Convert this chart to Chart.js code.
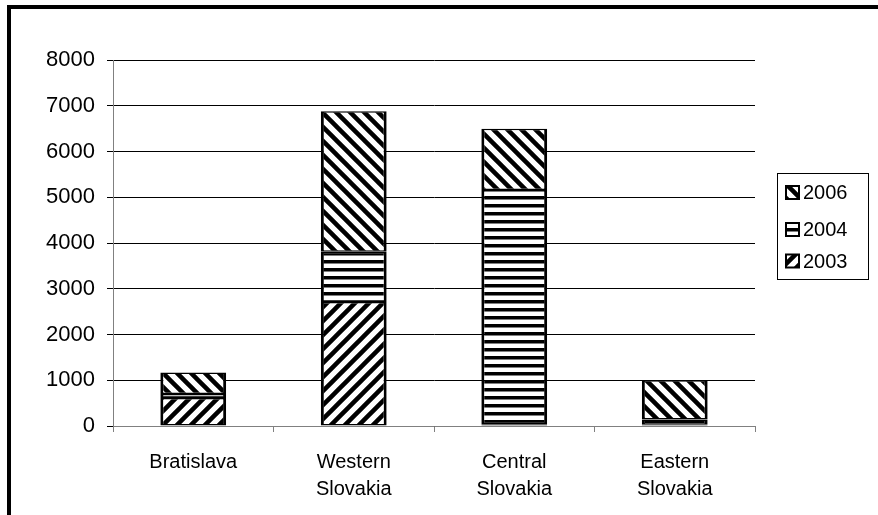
<!DOCTYPE html>
<html>
<head>
<meta charset="utf-8">
<script src="https://cdn.jsdelivr.net/npm/chart.js@4"></script>
<style>
  html, body { margin: 0; padding: 0; background: #fff; }
  #wrap { width: 878px; height: 515px; position: relative; }
</style>
</head>
<body>
<div id="wrap"><canvas id="chart" width="878" height="515"></canvas></div>
<script>
// Regions on the category axis (multi-line labels as arrays)
const categories = [['Bratislava'], ['Western', 'Slovakia'], ['Central', 'Slovakia'], ['Eastern', 'Slovakia']];

// Series, stacked bottom to top
const seriesNames = ['2003', '2004', '2006'];
const values2003 = [610, 2710, 40, 30];
const values2004 = [90, 1100, 5120, 110];
const values2006 = [470, 3070, 1340, 860];

// Value axis
const yMin = 0;
const yMax = 8000;
const yStep = 1000;

const FONT = "'Liberation Sans', Arial, sans-serif";

// Monochrome hatch fills
function hatch(kind) {
  const c = document.createElement('canvas');
  const s = kind === 'horizontal' ? 8 : 14;
  c.width = s; c.height = s;
  const g = c.getContext('2d');
  g.fillStyle = '#fff';
  g.fillRect(0, 0, s, s);
  g.strokeStyle = '#000';
  g.fillStyle = '#000';
  if (kind === 'horizontal') {
    g.fillRect(0, 4, s, 3.5);
  } else {
    g.lineWidth = 4.5;
    g.beginPath();
    for (const off of [-s, 0, s]) {
      if (kind === 'down') {         // "\" strokes
        g.moveTo(off - 2, -2); g.lineTo(off + s + 2, s + 2);
      } else {                       // "/" strokes
        g.moveTo(off - 2, s + 2); g.lineTo(off + s + 2, -2);
      }
    }
    g.stroke();
  }
  return g.createPattern(c, 'repeat');
}

const ctx = document.getElementById('chart').getContext('2d');
const fills = [hatch('up'), hatch('horizontal'), hatch('down')];
const seriesValues = [values2003, values2004, values2006];

const barBorder = { top: 1.5, bottom: 1.5, left: 3, right: 3 };

const datasets = seriesNames.map((name, i) => ({
  label: name,
  data: seriesValues[i],
  backgroundColor: fills[i],
  borderColor: '#000',
  borderWidth: barBorder,
  borderSkipped: false,
  categoryPercentage: 1.0,
  barPercentage: 0.41
}));

// White page with the heavy outer frame
const framePlugin = {
  id: 'frame',
  beforeDraw(chart) {
    const g = chart.ctx;
    g.save();
    g.fillStyle = '#fff';
    g.fillRect(0, 0, chart.width, chart.height);
    g.fillStyle = '#000';
    g.fillRect(7, 5, chart.width - 7, 4);
    g.fillRect(7, 5, 4, chart.height - 5);
    g.restore();
  }
};

// Boxed legend on the right, top series first
const boxLegend = {
  id: 'boxLegend',
  afterDraw(chart) {
    const g = chart.ctx;
    const ds = chart.data.datasets.slice().reverse();
    const rowY = [192.5, 229.5, 261];
    g.save();
    g.strokeStyle = '#000';
    g.lineWidth = 1;
    g.strokeRect(777.5, 173.5, 91, 106);
    g.font = '20px ' + FONT;
    g.textBaseline = 'middle';
    g.textAlign = 'left';
    ds.forEach((d, i) => {
      const y = rowY[i];
      g.fillStyle = d.backgroundColor;
      g.fillRect(786, y - 6.5, 13, 13);
      g.strokeStyle = '#000';
      g.lineWidth = 2;
      g.strokeRect(786, y - 6.5, 13, 13);
      g.fillStyle = '#000';
      g.fillText(d.label, 803, y + 1);
    });
    g.restore();
  }
};

new Chart(ctx, {
  type: 'bar',
  data: { labels: categories, datasets },
  options: {
    responsive: false,
    animation: false,
    devicePixelRatio: 1,
    layout: { padding: { top: 60, right: 123, bottom: 0, left: 0 } },
    plugins: {
      legend: { display: false },
      tooltip: { enabled: false }
    },
    scales: {
      x: {
        stacked: true,
        afterFit(scale) { scale.height = 89; },
        grid: {
          display: true,
          offset: true,
          drawOnChartArea: false,
          drawTicks: true,
          tickLength: 6,
          color: '#808080',
          lineWidth: 1
        },
        border: { display: true, color: '#808080', width: 1 },
        ticks: {
          color: '#000',
          font: { family: FONT, size: 20, lineHeight: 1.35 },
          padding: 17,
          maxRotation: 0,
          autoSkip: false
        }
      },
      y: {
        stacked: true,
        min: yMin,
        max: yMax,
        afterFit(scale) { scale.width = 113; },
        grid: {
          color: '#000',
          lineWidth: 1,
          tickLength: 6,
          tickColor: '#000'
        },
        border: { display: true, color: '#808080', width: 1 },
        ticks: {
          stepSize: yStep,
          color: '#000',
          font: { family: FONT, size: 22 },
          padding: 12,
          callback: (v) => String(v)
        }
      }
    }
  },
  plugins: [framePlugin, boxLegend]
});
</script>
</body>
</html>
